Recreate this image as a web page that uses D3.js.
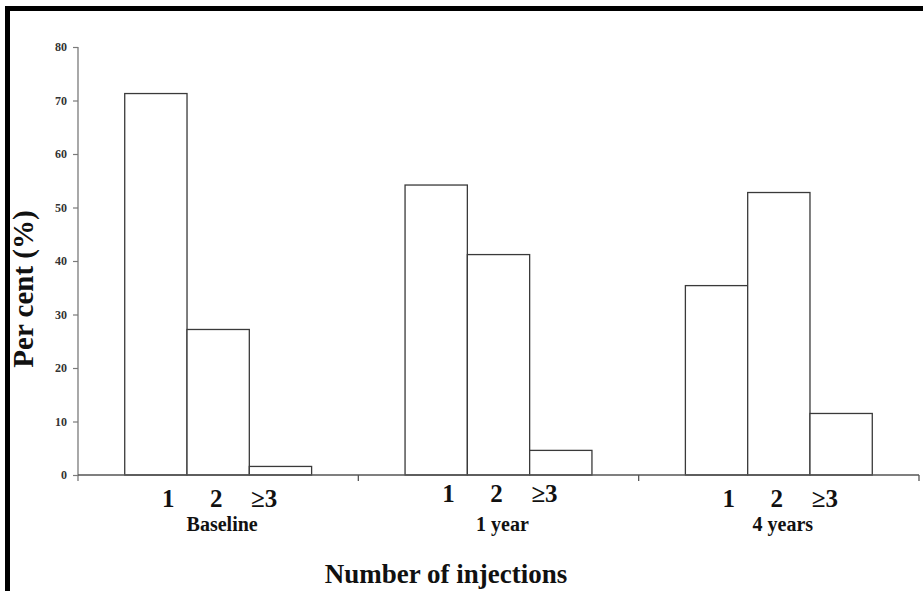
<!DOCTYPE html>
<html>
<head>
<meta charset="utf-8">
<script src="https://cdn.jsdelivr.net/npm/d3@7"></script>
<style>
  html, body { margin: 0; padding: 0; background: #fff; }
  svg { display: block; }
</style>
</head>
<body>
<svg id="chart" width="923" height="591"></svg>
<script>
// ---- data ----
const groups = ["Baseline", "1 year", "4 years"];
const injections = ["1", "2", "≥3"];
const baselineValues = [71.3, 27.2, 1.6];
const oneYearValues = [54.2, 41.2, 4.6];
const fourYearValues = [35.4, 52.8, 11.5];
const yTicks = [0, 10, 20, 30, 40, 50, 60, 70, 80];
const yTitle = "Per cent (%)";
const xTitle = "Number of injections";

const seriesByGroup = [baselineValues, oneYearValues, fourYearValues];
const data = groups.map((g, i) => ({
  group: g,
  values: injections.map((k, j) => ({ key: k, value: seriesByGroup[i][j] }))
}));

// ---- layout ----
const svg = d3.select("#chart");
const W = 923, H = 591;
const x0 = 78, x1 = 919, yBottom = 475, yTop = 47;
const serif = "'Liberation Serif', 'Times New Roman', serif";

svg.append("rect").attr("width", W).attr("height", H).attr("fill", "#fff");

// frame (top and left border)
svg.append("rect").attr("x", 5).attr("y", 6).attr("width", W - 5).attr("height", 5).attr("fill", "#000");
svg.append("rect").attr("x", 5).attr("y", 6).attr("width", 5).attr("height", H - 6).attr("fill", "#000");

const y = d3.scaleLinear().domain([0, 80]).range([yBottom, yTop]);
const xGroup = d3.scaleBand().domain(groups).range([x0, x1]).paddingInner(0).paddingOuter(0);
const xBar = d3.scaleBand().domain(injections).range([0, xGroup.bandwidth()]).paddingInner(0).paddingOuter(0.75);
const xLabel = d3.scalePoint().domain(injections).range([-50, 46]);

// y axis
const yAxis = d3.axisLeft(y).tickValues(yTicks).tickSize(5).tickPadding(6).tickSizeOuter(0);
const gy = svg.append("g").attr("transform", `translate(${x0},0)`).call(yAxis);
gy.select(".domain").attr("stroke", "#7a7a7a").attr("stroke-width", 1.3)
  .attr("d", `M0,${yTop}V${yBottom + 6}`);
gy.selectAll(".tick line").attr("stroke", "#7a7a7a").attr("stroke-width", 1.2);
gy.selectAll(".tick text").attr("font-family", serif).attr("font-weight", "bold")
  .attr("font-size", 12).attr("fill", "#333");

// bars
const gBars = svg.append("g");
data.forEach(d => {
  gBars.selectAll(null).data(d.values).enter().append("rect")
    .attr("x", v => xGroup(d.group) + xBar(v.key))
    .attr("y", v => y(v.value))
    .attr("width", xBar.bandwidth())
    .attr("height", v => yBottom - y(v.value))
    .attr("fill", "#fff")
    .attr("stroke", "#3a3a3a")
    .attr("stroke-width", 1.3);
});

// x axis
const xAxis = d3.axisBottom(xGroup).tickSize(0).tickFormat("");
const gx = svg.append("g").attr("transform", `translate(0,${yBottom})`).call(xAxis);
gx.select(".domain").attr("stroke", "#555").attr("stroke-width", 1.5)
  .attr("d", `M${x0},0H${x1}`);
// group boundary ticks
gx.selectAll(null).data(groups).enter().append("line")
  .attr("x1", g => xGroup(g) + xGroup.bandwidth())
  .attr("x2", g => xGroup(g) + xGroup.bandwidth())
  .attr("y1", 0).attr("y2", 6)
  .attr("stroke", "#555").attr("stroke-width", 1.3);

// sub-category labels
data.forEach(d => {
  const cx = xGroup(d.group) + xGroup.bandwidth() / 2;
  svg.selectAll(null).data(injections).enter().append("text")
    .attr("x", k => cx + xLabel(k))
    .attr("y", d.group === "1 year" ? 502 : 507)
    .attr("text-anchor", "middle")
    .attr("font-family", serif).attr("font-weight", "bold")
    .attr("font-size", 25).attr("fill", "#111")
    .text(k => k);
  svg.append("text")
    .attr("x", cx + 4)
    .attr("y", 531)
    .attr("text-anchor", "middle")
    .attr("font-family", serif).attr("font-weight", "bold")
    .attr("font-size", 20).attr("fill", "#111")
    .text(d.group);
});

// axis titles
svg.append("text")
  .attr("x", 446).attr("y", 583)
  .attr("text-anchor", "middle")
  .attr("font-family", serif).attr("font-weight", "bold")
  .attr("font-size", 27).attr("fill", "#111")
  .text(xTitle);

svg.append("text")
  .attr("transform", "translate(33,289) rotate(-90)")
  .attr("text-anchor", "middle")
  .attr("font-family", serif).attr("font-weight", "bold")
  .attr("font-size", 29).attr("fill", "#111")
  .text(yTitle);
</script>
</body>
</html>
